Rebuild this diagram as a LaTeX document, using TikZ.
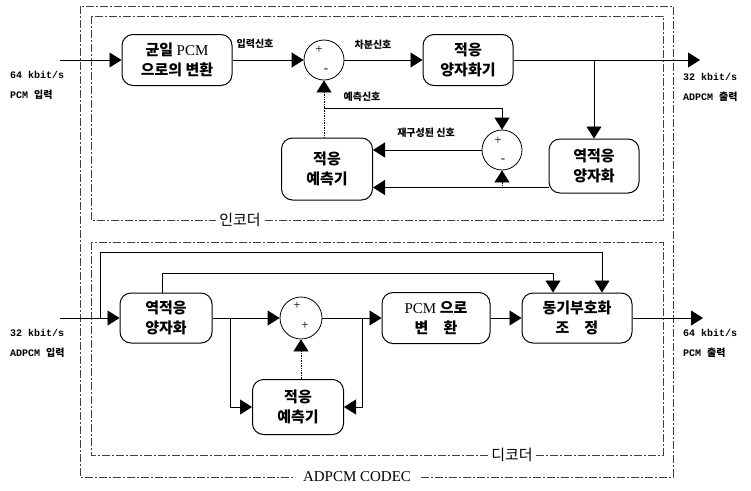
\documentclass[tikz,border=0pt]{standalone}
\usepackage{fontspec}
\setmainfont{Liberation Serif}
\setmonofont{Liberation Mono}
\newfontfamily\kr{Noto Sans CJK KR}
\usetikzlibrary{arrows.meta}
\begin{document}
\begin{tikzpicture}[x=1pt,y=-1pt,
 blk/.style={draw, line width=1pt, rounded corners=11pt, inner sep=0pt, align=center, font=\kr\bfseries\fontsize{15}{20}\selectfont},
 sumc/.style={draw, circle, line width=0.8pt, minimum size=40pt, inner sep=0pt},
 arr/.style={line width=0.8pt, -{Triangle[length=12pt,width=15pt]}},
 ln/.style={line width=0.8pt},
 dln/.style={line width=0.7pt, densely dotted},
 frame/.style={draw=black!75, line width=0.6pt, dash pattern=on 8pt off 2pt on 2pt off 2pt},
 flabel/.style={fill=white, inner sep=3pt, font=\kr\fontsize{15}{18}\selectfont},
 sig/.style={font=\kr\bfseries\fontsize{10}{12}\selectfont, inner sep=1pt},
 io/.style={anchor=west, align=left, font=\ttfamily\bfseries\fontsize{10}{20}\selectfont, inner sep=0pt},
 pm/.style={font=\fontsize{13}{13}\selectfont, inner sep=0pt}
]
\useasboundingbox (0,0) rectangle (751,490);

% frames
\draw[frame] (80,6) rectangle (673,477);
\draw[frame] (91,16) rectangle (663,220);
\draw[frame] (91,242) rectangle (663,455);
\node[flabel] (enc) at (240,220) {인코더};
\node[flabel] (dec) at (512,455) {디코더};
\node[flabel, font=\fontsize{15}{18}\selectfont, inner xsep=10pt] (codec) at (357,477) {ADPCM CODEC};

% ---------------- encoder ----------------
\node[blk, minimum width=110pt, minimum height=51pt] (E1) at (177,60) {균일 {\rmfamily\mdseries PCM}\\으로의 변환};
\node[sumc] (C1) at (324,60) {};
\node[blk, minimum width=90pt, minimum height=51pt] (E2) at (468,60) {적응\\양자화기};
\node[blk, minimum width=90pt, minimum height=54pt] (E3) at (594,166) {역적응\\양자화};
\node[blk, minimum width=91pt, minimum height=62pt] (EP) at (327,169) {적응\\예측기};
\node[sumc] (C2) at (502,150) {};

\node[pm] (c1p) at ([xshift=-5pt,yshift=10pt]C1.center) {+};
\node[pm] (c1m) at ([xshift=2pt,yshift=-11pt]C1.center) {-};
\node[pm] (c2p) at ([xshift=-4pt,yshift=9pt]C2.center) {+};
\node[pm] (c2m) at ([xshift=1pt,yshift=-11pt]C2.center) {-};

\node[io] (inEl) at (10,85) {64 kbit/s\\PCM {\kr 입력}};
\node[io] (outEl) at (683,87) {32 kbit/s\\ADPCM {\kr 출력}};

\coordinate (inE) at (60,60);
\coordinate (outE) at (700,60);
\draw[arr] (inE) -- (E1.west);
\draw[arr] (E1.east) -- (C1.west);
\node[sig] (s1) at (255,44) {입력신호};
\draw[arr] (C1.east) -- (E2.west);
\node[sig] (s2) at (373,45) {차분신호};
\draw[arr] (E2.east) -- (outE);
\draw[arr] (E3.north |- E2.east) -- (E3.north);
\draw[arr] ([yshift=6pt]E3.south west) coordinate (b1) -- (b1 -| EP.east);
\draw[arr, dln] (C2 |- b1) -- (C2.south);
\draw[arr] (C2.west) -- (C2.west -| EP.east);
\node[sig] (s3) at (426,133) {재구성된 신호};
\coordinate (pj) at (324,108);
\draw[dln] (C1 |- EP.north) -- (pj);
\draw[arr, dln] (pj) -- (C1.south);
\draw[arr] (pj) -| (C2.north);
\node[sig] (s4) at (362,97) {예측신호};

% ---------------- decoder ----------------
\node[blk, minimum width=92pt, minimum height=50pt] (D1) at (166,318) {역적응\\양자화};
\node[sumc, minimum size=42pt] (C3) at (301,318) {};
\node[blk, minimum width=108pt, minimum height=51pt] (D3) at (436,318) {{\rmfamily\mdseries PCM} 으로\\변\quad 환};
\node[blk, minimum width=110pt, minimum height=50pt] (D4) at (577,318) {동기부호화\\조\quad 정};
\node[blk, minimum width=91pt, minimum height=55pt] (DP) at (298,407) {적응\\예측기};

\node[pm] (c3p) at ([xshift=-4pt,yshift=12pt]C3.center) {+};
\node[pm] (c3q) at ([xshift=4pt,yshift=-8pt]C3.center) {+};

\node[io] (inDl) at (10,343) {32 kbit/s\\ADPCM {\kr 입력}};
\node[io] (outDl) at (683,343) {64 kbit/s\\PCM {\kr 출력}};

\coordinate (inD) at (60,318);
\coordinate (outD) at (703,318);
\coordinate (j1) at (100,318);
\coordinate (k1) at (602,252);
\coordinate (k2) at (553,273);
\coordinate (j2) at (230,318);
\coordinate (j3) at (362,318);

\draw[arr] (inD) -- (D1.west);
\draw[arr] (j1) |- (k1) -- (k1 |- D4.north);
\draw[arr] ([xshift=-4pt]D1.north) |- (k2) -- (k2 |- D4.north);
\draw[arr] (D1.east) -- (C3.west);
\draw[arr] (j2) |- (DP.west);
\draw[arr, dln] (C3 |- DP.north) -- (C3.south);
\draw[arr] (C3.east) -- (D3.west);
\draw[arr] (j3) |- (DP.east);
\draw[arr] (D3.east) -- (D4.west);
\draw[arr] (D4.east) -- (outD);
\end{tikzpicture}
\end{document}
